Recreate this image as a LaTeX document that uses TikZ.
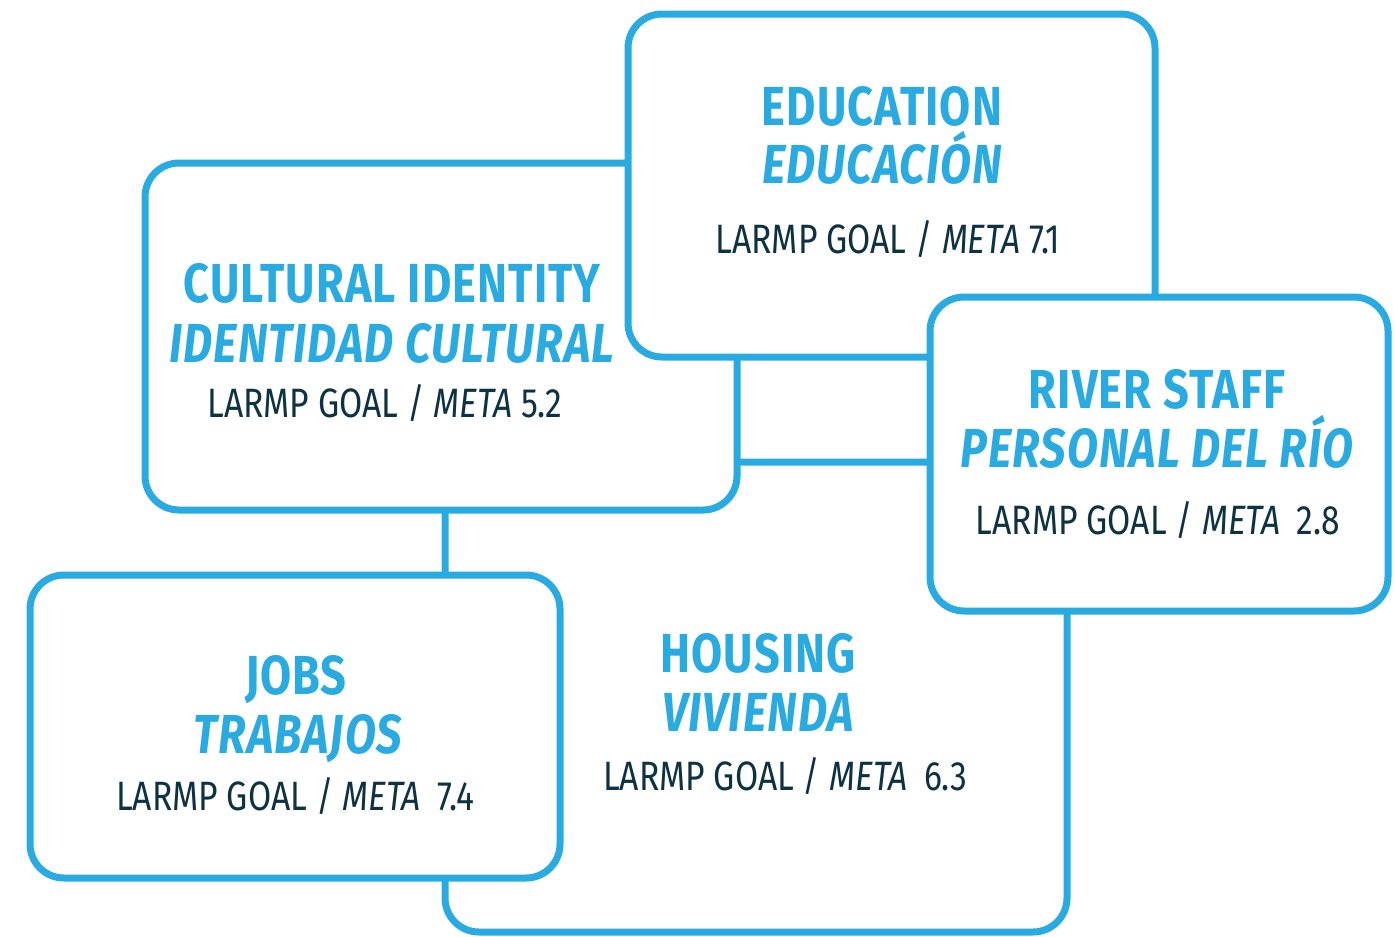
\documentclass[tikz,border=0pt]{standalone}
\usepackage{fontspec}
\setmainfont[FakeStretch=0.82]{Fira Sans}
\usepackage{tikz}
\usetikzlibrary{positioning}
\definecolor{lineblue}{RGB}{41,171,226}
\definecolor{goaltext}{RGB}{14,50,66}

\begin{document}
\begin{tikzpicture}[x=1pt, y=-1pt,
    box/.style={draw=lineblue, line width=7pt, fill=white, rounded corners=34pt, inner sep=0pt},
    head/.style={text=lineblue, font=\fontsize{55}{60}\selectfont\bfseries\addfontfeatures{LetterSpace=2}, anchor=base, inner sep=0pt},
    goal/.style={text=goaltext, font=\fontsize{41}{46}\selectfont, anchor=base, inner sep=0pt}]
    \useasboundingbox (0,0) rectangle (1395,937);

    % Draw the boxes, lowest first
    \node[box, minimum width=622pt, minimum height=470pt] (housing) at (756,697) {};
    \node[box, minimum width=592pt, minimum height=347pt] (culture) at (441,336.5) {};
    \node[box, minimum width=530pt, minimum height=303pt] (jobs) at (295,726.5) {};
    \node[box, minimum width=527pt, minimum height=343pt] (edu) at (891.5,185.5) {};
    \node[box, minimum width=458pt, minimum height=314pt] (river) at (1159,454) {};

    % Education
    \node[head] (eduEn) at (882,125) {EDUCATION};
    \node[head] (eduEs) at (882,183) {\itshape EDUCACIÓN};
    \node[goal] (eduGoal) at (888,253) {LARMP GOAL / \textit{META} 7.1};

    % Cultural identity
    \node[head] (cultEn) at (392,302) {CULTURAL IDENTITY};
    \node[head] (cultEs) at (392,362) {\itshape IDENTIDAD CULTURAL};
    \node[goal] (cultGoal) at (385,417) {LARMP GOAL / \textit{META} 5.2};

    % River staff
    \node[head] (riverEn) at (1157,408) {RIVER STAFF};
    \node[head] (riverEs) at (1157,467) {\itshape PERSONAL DEL RÍO};
    \node[goal] (riverGoal) at (1158,534) {LARMP GOAL / \textit{META}\hspace{0.4em}2.8};

    % Jobs
    \node[head] (jobsEn) at (296,694) {JOBS};
    \node[head] (jobsEs) at (298,753) {\itshape TRABAJOS};
    \node[goal] (jobsGoal) at (295,810) {LARMP GOAL / \textit{META}\hspace{0.4em}7.4};

    % Housing
    \node[head] (housEn) at (758,672) {HOUSING};
    \node[head] (housEs) at (758,731) {\itshape VIVIENDA};
    \node[goal] (housGoal) at (785,790) {LARMP GOAL / \textit{META}\hspace{0.4em}6.3};
\end{tikzpicture}
\end{document}
